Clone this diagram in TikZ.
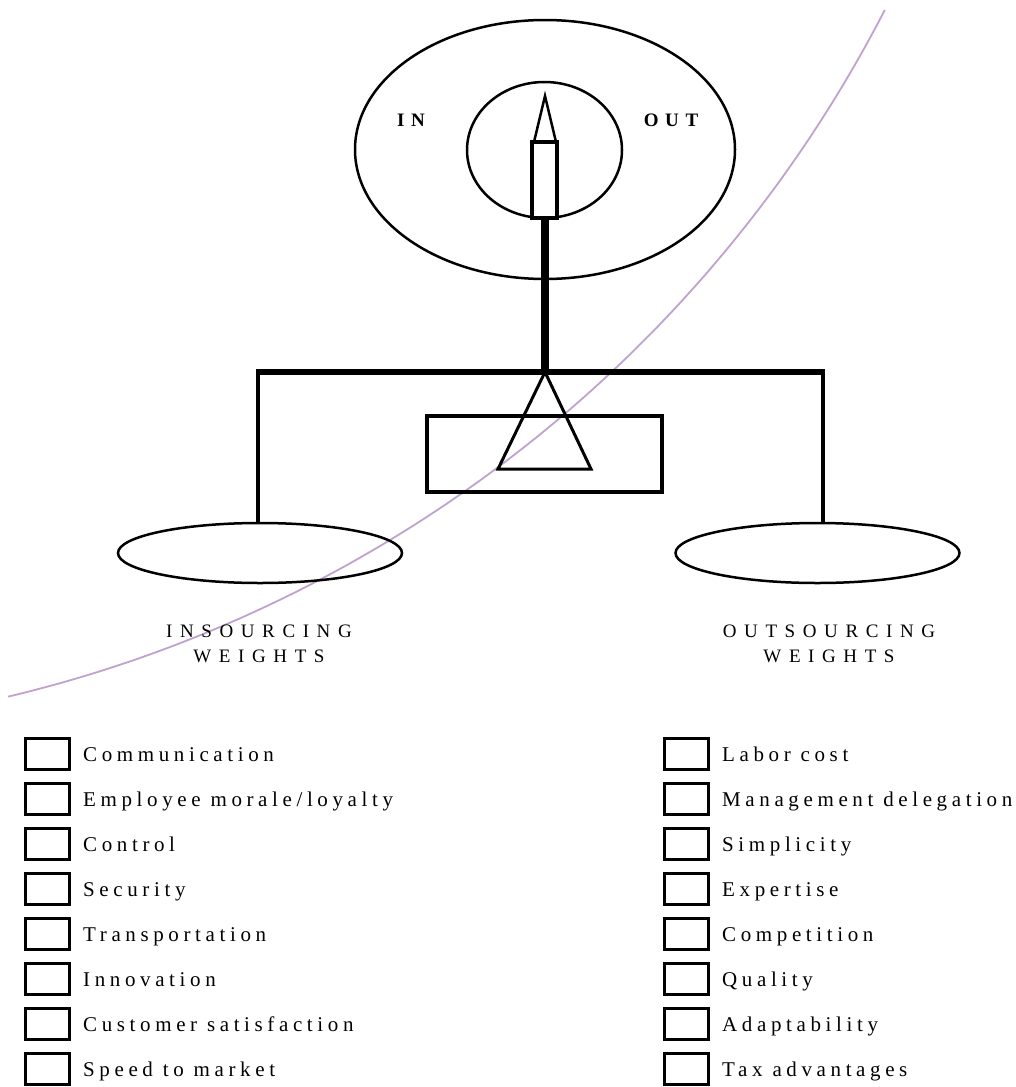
\documentclass[tikz,border=0pt]{standalone}
\usepackage{fontspec}
\setmainfont{Liberation Serif}
\usetikzlibrary{positioning,shapes.geometric}
\definecolor{arcpurple}{RGB}{192,162,206}

\begin{document}
\begin{tikzpicture}[
x=1pt, y=-1pt,
node distance=11pt,
check/.style={draw, line width=3pt, minimum width=44pt, minimum height=31pt, inner sep=0pt},
factor/.style={inner sep=0pt, text height=14pt, text depth=0pt, font=\addfontfeatures{LetterSpace=22}\fontsize{21}{24}\selectfont},
heading/.style={align=center, inner sep=0pt, font=\addfontfeatures{LetterSpace=40}\fontsize{19}{25}\selectfont},
dial/.style={draw, line width=2.5pt, ellipse, inner sep=0pt},
pan/.style={draw, line width=2.5pt, ellipse, minimum width=284pt, minimum height=60pt},
side/.style={font=\bfseries\addfontfeatures{LetterSpace=35}\fontsize{19}{22}\selectfont}
]
\useasboundingbox (0,0) rectangle (1016,1087);

% background arc
\draw[arcpurple, line width=1.8pt] plot[domain=27.26:76.6, samples=80, smooth]
  ({-301+1334*cos(\x)}, {-601+1334*sin(\x)});

% dial
\node[dial, minimum width=380pt, minimum height=259pt] (dial) at (545,149.5) {};
\node[dial, minimum width=155pt, minimum height=136pt] (hub) at (544.5,150) {};
\node[side] (in) at (411,120) {IN};
\node[side] (out) at (671,120) {OUT};
\draw[line width=3.5pt] (532,142) rectangle (557,218);
\draw[line width=2.5pt, line join=miter] (545,96) -- (556,142) -- (534,142) -- cycle;
\draw[line width=8pt] (544.5,218) -- (544.5,375);

% balance
\node[pan] (lpan) at (260,553) {};
\node[pan] (rpan) at (817.5,553) {};
\node[draw, line width=4pt, minimum width=235pt, minimum height=76pt] (stand) at (544.5,454) {};
\draw[line width=3pt, line join=miter] (545,372) -- (591,469) -- (498,469) -- cycle;
\coordinate (lhook) at (258,372);
\coordinate (rhook) at (823,372);
\draw[line width=6pt] (256,372) -- (825,372);
\draw[line width=4pt] (lhook) -- (lhook |- lpan.north);
\draw[line width=4pt] (rhook) -- (rhook |- rpan.north);

\node[heading] (inhead) at (259,644) {INSOURCING\\WEIGHTS};
\node[heading] (outhead) at (829,644) {OUTSOURCING\\WEIGHTS};

% insourcing factors
\node[check] (a1) at (47.5,754) {};
\node[check, below=of a1] (a2) {};
\node[check, below=of a2] (a3) {};
\node[check, below=of a3] (a4) {};
\node[check, below=of a4] (a5) {};
\node[check, below=of a5] (a6) {};
\node[check, below=of a6] (a7) {};
\node[check, below=of a7] (a8) {};
\node[factor, right=12pt of a1] {Communication};
\node[factor, right=12pt of a2] {Employee morale/loyalty};
\node[factor, right=12pt of a3] {Control};
\node[factor, right=12pt of a4] {Security};
\node[factor, right=12pt of a5] {Transportation};
\node[factor, right=12pt of a6] {Innovation};
\node[factor, right=12pt of a7] {Customer satisfaction};
\node[factor, right=12pt of a8] {Speed to market};

% outsourcing factors
\node[check] (b1) at (686.5,754) {};
\node[check, below=of b1] (b2) {};
\node[check, below=of b2] (b3) {};
\node[check, below=of b3] (b4) {};
\node[check, below=of b4] (b5) {};
\node[check, below=of b5] (b6) {};
\node[check, below=of b6] (b7) {};
\node[check, below=of b7] (b8) {};
\node[factor, right=12pt of b1] {Labor cost};
\node[factor, right=12pt of b2] {Management delegation};
\node[factor, right=12pt of b3] {Simplicity};
\node[factor, right=12pt of b4] {Expertise};
\node[factor, right=12pt of b5] {Competition};
\node[factor, right=12pt of b6] {Quality};
\node[factor, right=12pt of b7] {Adaptability};
\node[factor, right=12pt of b8] {Tax advantages};
\end{tikzpicture}
\end{document}
